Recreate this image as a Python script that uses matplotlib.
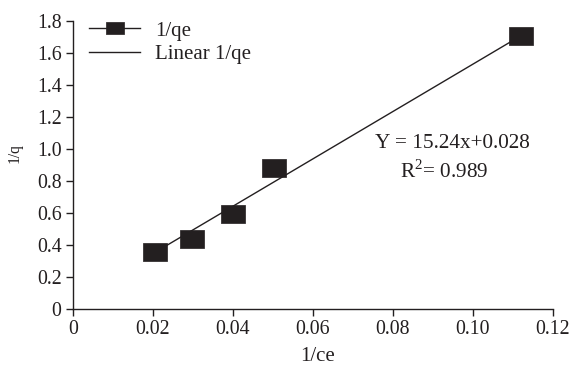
import matplotlib
matplotlib.use("Agg")
import matplotlib.pyplot as plt

x_vals = [0.0206, 0.0299, 0.0401, 0.0504, 0.1120]
y_vals = [0.352, 0.437, 0.590, 0.881, 1.708]
fit_x = [0.0206, 0.1120]
fit_y = [0.352, 1.708]
x_ticks = [0, 0.02, 0.04, 0.06, 0.08, 0.10, 0.12]
x_tick_labels = ["0", "0.02", "0.04", "0.06", "0.08", "0.10", "0.12"]
y_ticks = [0, 0.2, 0.4, 0.6, 0.8, 1.0, 1.2, 1.4, 1.6, 1.8]
y_tick_labels = ["0", "0.2", "0.4", "0.6", "0.8", "1.0", "1.2", "1.4", "1.6", "1.8"]
series_label = "1/qe"
fit_label = "Linear 1/qe"
equation_text = "Y = 15.24x+0.028"
r2_text = "R$^{2}$= 0.989"

plt.rcParams['font.family'] = ['Liberation Serif', 'DejaVu Serif']
plt.rcParams['mathtext.fontset'] = 'custom'
plt.rcParams['mathtext.rm'] = 'Liberation Serif'

W, H = 575, 368
fig = plt.figure(figsize=(W / 100, H / 100), dpi=100)
ax = fig.add_axes([72.7 / W, 1 - 308.5 / H, (553 - 72.7) / W, (308.5 - 21) / H])

dark = "#231f20"
rect = [(-1.36, -1), (1.36, -1), (1.36, 1), (-1.36, 1), (-1.36, -1)]

ax.plot(fit_x, fit_y, color=dark, lw=1.0, zorder=2)
ax.plot(x_vals, y_vals, linestyle="none", marker=rect, markersize=17.3,
        color=dark, markeredgecolor=dark, markeredgewidth=0.5, zorder=3)
h1, = ax.plot([], [], color=dark, lw=1.0, marker=rect, markersize=12.7,
              markeredgewidth=0.5, label=series_label)
h2, = ax.plot([], [], color=dark, lw=1.0, label=fit_label)

ax.set_xlim(0, 0.12)
ax.set_ylim(0, 1.8)
ax.set_xticks(x_ticks)
ax.set_xticklabels(x_tick_labels)
ax.set_yticks(y_ticks)
ax.set_yticklabels(y_tick_labels)
ax.tick_params(direction="out", length=5, width=1, labelsize=14.3,
               colors=dark, pad=3)
for s in ["top", "right"]:
    ax.spines[s].set_visible(False)
for s in ["left", "bottom"]:
    ax.spines[s].set_color(dark)
    ax.spines[s].set_linewidth(1.0)

ax.set_xlabel("1/ce", fontsize=15, color=dark)
ax.xaxis.set_label_coords(0.51, -0.135)
ax.set_ylabel("1/q", fontsize=11.2, color=dark, va="center")
ax.yaxis.set_label_coords(-0.122, 0.541)

leg = ax.legend(handles=[h1, h2], loc="upper left",
                bbox_to_anchor=(89 / W, 1 - 21 / H), bbox_transform=fig.transFigure,
                frameon=False, fontsize=15, handlelength=2.45, handletextpad=0.72,
                labelspacing=0.2, borderpad=0, borderaxespad=0)
for t in leg.get_texts():
    t.set_color(dark)

fig.text(375 / W, 1 - 148.3 / H, equation_text, ha="left", va="baseline",
         fontsize=15.3, color=dark)
fig.text(400 / W, 1 - 177.7 / H, r2_text, ha="left", va="baseline",
         fontsize=15.3, color=dark)

fig.savefig("out.png", dpi=100)
